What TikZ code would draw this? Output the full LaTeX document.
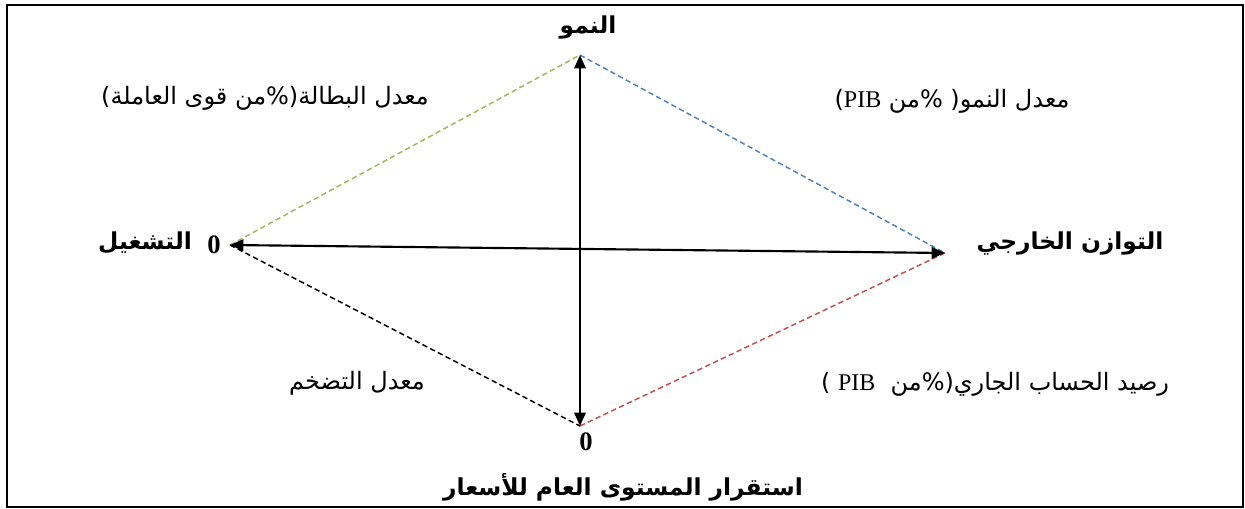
\documentclass[tikz,border=0pt]{standalone}
\usepackage{fontspec}
\setmainfont{Liberation Serif}
\newfontfamily\arabicfont[Script=Arabic]{DejaVu Sans}
\TeXXeTstate=1
\usetikzlibrary{arrows.meta,positioning}
\usepackage{xcolor}
\definecolor{dgreen}{RGB}{155,187,89}
\definecolor{dblue}{RGB}{79,129,189}
\definecolor{dred}{RGB}{192,80,77}

\tikzset{
  axis/.style={line width=1.6pt, {Triangle[length=10pt,width=8.5pt]}-{Triangle[length=10pt,width=8.5pt]}},
  side/.style={line width=1.1pt, dash pattern=on 4pt off 2.5pt},
  axlabel/.style={font=\arabicfont\bfseries\fontsize{17.5}{20}\selectfont, inner sep=0pt},
  sidelabel/.style={font=\arabicfont\fontsize{18}{21}\selectfont, inner sep=0pt},
  zero/.style={font=\bfseries\fontsize{20}{22}\selectfont, inner sep=0pt}
}

\begin{document}
\begin{tikzpicture}[x=0.75pt, y=-0.75pt]
    \useasboundingbox (0,0) rectangle (1245,509);
    \draw[line width=1.6pt] (7,5) rectangle (1243,507);

    % sommets
    \coordinate (haut) at (580,55);
    \coordinate (bas) at (580,426);
    \coordinate (gauche) at (230,245);
    \coordinate (droite) at (945,253);

    % losange
    \draw[side, dgreen] (gauche) -- (haut);
    \draw[side, dblue] (haut) -- (droite);
    \draw[side, dred] (droite) -- (bas);
    \draw[side, black] (gauche) -- (bas);

    % axes
    \draw[axis] (haut) -- (bas);
    \draw[axis] (gauche) -- (droite);

    % titres des axes
    \node[axlabel] (croissance) at (588,27) {\beginR النمو\endR};
    \node[axlabel] (emploi) at (145,243) {\beginR التشغيل\endR};
    \node[axlabel] (equilibre) at (1070,243) {\beginR التوازن الخارجي\endR};
    \node[axlabel] (prix) at (623,487) {\beginR استقرار المستوى العام للأسعار\endR};
    \node[zero] (zeroG) at (214,245) {0};
    \node[zero] (zeroB) at (586,442) {0};

    % indicateurs
    \node[sidelabel] (chomage) at (265,98) {\beginR معدل البطالة(\%من قوى العاملة)\endR};
    \node[sidelabel] (pib) at (952,101) {\beginR معدل النمو(\ \%من {\rmfamily\beginL PIB\endL})\endR};
    \node[sidelabel] (inflation) at (357,383) {\beginR معدل التضخم\endR};
    \node[sidelabel] (courant) at (995,384) {\beginR رصيد الحساب الجاري(\%من\ \ {\rmfamily\beginL PIB\endL}\ )\endR};
\end{tikzpicture}
\end{document}
